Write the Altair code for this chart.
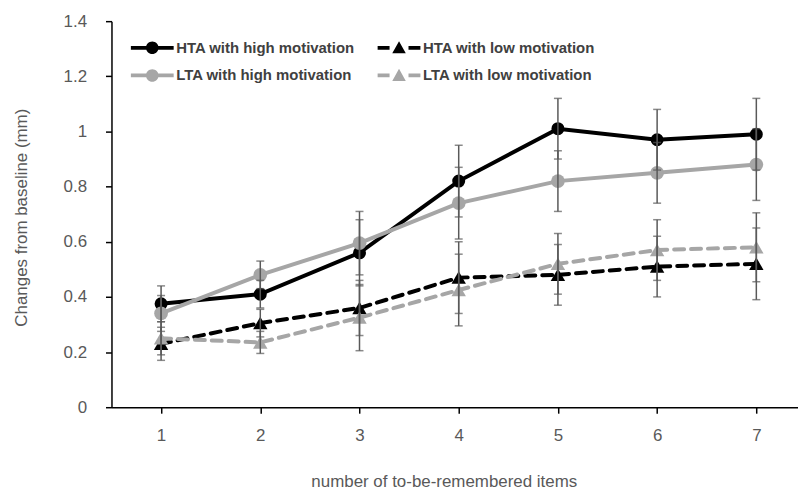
import altair as alt
import pandas as pd

# ---- data ----
items = [1, 2, 3, 4, 5, 6, 7]
series_names = ["HTA with high motivation", "HTA with low motivation",
                "LTA with high motivation", "LTA with low motivation"]
hta_high = [0.375, 0.41, 0.56, 0.82, 1.01, 0.97, 0.99]
hta_high_err = [0.065, 0.05, 0.12, 0.13, 0.11, 0.11, 0.13]
hta_low = [0.23, 0.305, 0.36, 0.47, 0.48, 0.51, 0.52]
hta_low_err = [0.06, 0.05, 0.10, 0.13, 0.11, 0.11, 0.13]
lta_high = [0.34, 0.48, 0.595, 0.74, 0.82, 0.85, 0.88]
lta_high_err = [0.065, 0.05, 0.115, 0.13, 0.11, 0.11, 0.13]
lta_low = [0.25, 0.235, 0.325, 0.425, 0.52, 0.57, 0.58]
lta_low_err = [0.06, 0.04, 0.12, 0.13, 0.11, 0.11, 0.125]
y_ticks = [0, 0.2, 0.4, 0.6, 0.8, 1.0, 1.2, 1.4]

values = [hta_high, hta_low, lta_high, lta_low]
errors = [hta_high_err, hta_low_err, lta_high_err, lta_low_err]

rows = []
for name, vals, errs in zip(series_names, values, errors):
    for x, v, e in zip(items, vals, errs):
        rows.append({"series": name, "x": x, "y": v, "lo": v - e, "hi": v + e})
df = pd.DataFrame(rows)

colors = ["#000000", "#000000", "#a6a6a6", "#a6a6a6"]
dashed = [False, True, False, True]
shapes = ["circle", "triangle-up", "circle", "triangle-up"]
sizes = [170, 210, 190, 210]

# legend symbols: line + marker (unit = 7px, left end at -1.143)
circle_sym = ("M-1.143,-0.27H1.2V0.27H-1.143Z M2.66,-0.27H5V0.27H2.66Z "
              "M1.03,0A0.9,0.9 0 1,1 2.83,0A0.9,0.9 0 1,1 1.03,0Z")
tri_sym = ("M-1.143,-0.27H0.57V0.27H-1.143Z M3.29,-0.27H5V0.27H3.29Z "
           "M1.93,-0.95L2.9,0.8L0.96,0.8Z")
legend_syms = [circle_sym, tri_sym, circle_sym, tri_sym]

FONT = "Liberation Sans"
GREY_TXT = "#595959"

x_enc = alt.X("x:Q",
              scale=alt.Scale(domain=[0.5, 7.42], nice=False, zero=False),
              axis=alt.Axis(values=items, format="d", grid=False,
                            domainColor="#000000", domainWidth=1.5,
                            tickColor="#000000", tickWidth=1.5, tickSize=6,
                            labelFont=FONT, labelFontSize=17, labelColor=GREY_TXT,
                            labelPadding=14,
                            title="number of to-be-remembered items",
                            titleFont=FONT, titleFontSize=17, titleFontWeight="normal",
                            titleColor=GREY_TXT, titleX=334, titleY=75,
                            titleBaseline="middle", titleAnchor="middle"))
y_enc = alt.Y("y:Q",
              scale=alt.Scale(domain=[0, 1.4], nice=False),
              axis=alt.Axis(values=y_ticks, format="~g", grid=False,
                            domainColor="#000000", domainWidth=1.5,
                            tickColor="#000000", tickWidth=1.5, tickSize=6,
                            labelFont=FONT, labelFontSize=17, labelColor=GREY_TXT,
                            labelPadding=19,
                            title="Changes from baseline (mm)",
                            titleFont=FONT, titleFontSize=17, titleFontWeight="normal",
                            titleColor=GREY_TXT, titleX=-90, titleY=197,
                            titleBaseline="middle", titleAnchor="middle"))

base = alt.Chart(df)
layers = []
for name, col, is_dash, shp, sz in zip(series_names, colors, dashed, shapes, sizes):
    sub = base.transform_filter(alt.datum.series == name)
    line_kw = dict(strokeWidth=4, color=col)
    if is_dash:
        line_kw.update(strokeDash=[10, 7], strokeCap="round")
    layers.append(sub.mark_line(**line_kw).encode(x=x_enc, y=y_enc))
    layers.append(sub.mark_point(filled=True, opacity=1, shape=shp, size=sz,
                                 color=col).encode(x="x:Q", y="y:Q"))

leg = alt.Legend(title=None, orient="none", legendX=20, legendY=19, columns=2,
                 direction="horizontal",
                 symbolSize=196, symbolStrokeWidth=0, symbolOpacity=1,
                 labelFont=FONT, labelFontSize=15, labelFontWeight="bold",
                 labelColor="#404040", labelOffset=30, rowPadding=12,
                 columnPadding=22, padding=0, labelLimit=400)

legend_layer = base.mark_point(filled=True, clip=True, opacity=1).encode(
    x=alt.value(-600), y=alt.value(-600),
    color=alt.Color("series:N", scale=alt.Scale(domain=series_names, range=colors),
                    legend=leg, sort=series_names),
    shape=alt.Shape("series:N", scale=alt.Scale(domain=series_names, range=legend_syms),
                    legend=leg, sort=series_names),
)

err_rule = base.mark_rule(color="#595959", strokeWidth=1.5).encode(
    x="x:Q", y="lo:Q", y2="hi:Q")
err_lo = base.mark_tick(color="#595959", thickness=1.5, size=8, orient="horizontal").encode(
    x="x:Q", y="lo:Q")
err_hi = base.mark_tick(color="#595959", thickness=1.5, size=8, orient="horizontal").encode(
    x="x:Q", y="hi:Q")

chart = alt.layer(*layers, err_rule, err_lo, err_hi, legend_layer).properties(
    width=690, height=388,
    autosize=alt.AutoSizeParams(type="none"),
    padding={"left": 104, "top": 12, "right": 0, "bottom": 89},
).configure_view(stroke=None)

chart.save("out.html", embed_options={"renderer": "svg", "actions": False})
